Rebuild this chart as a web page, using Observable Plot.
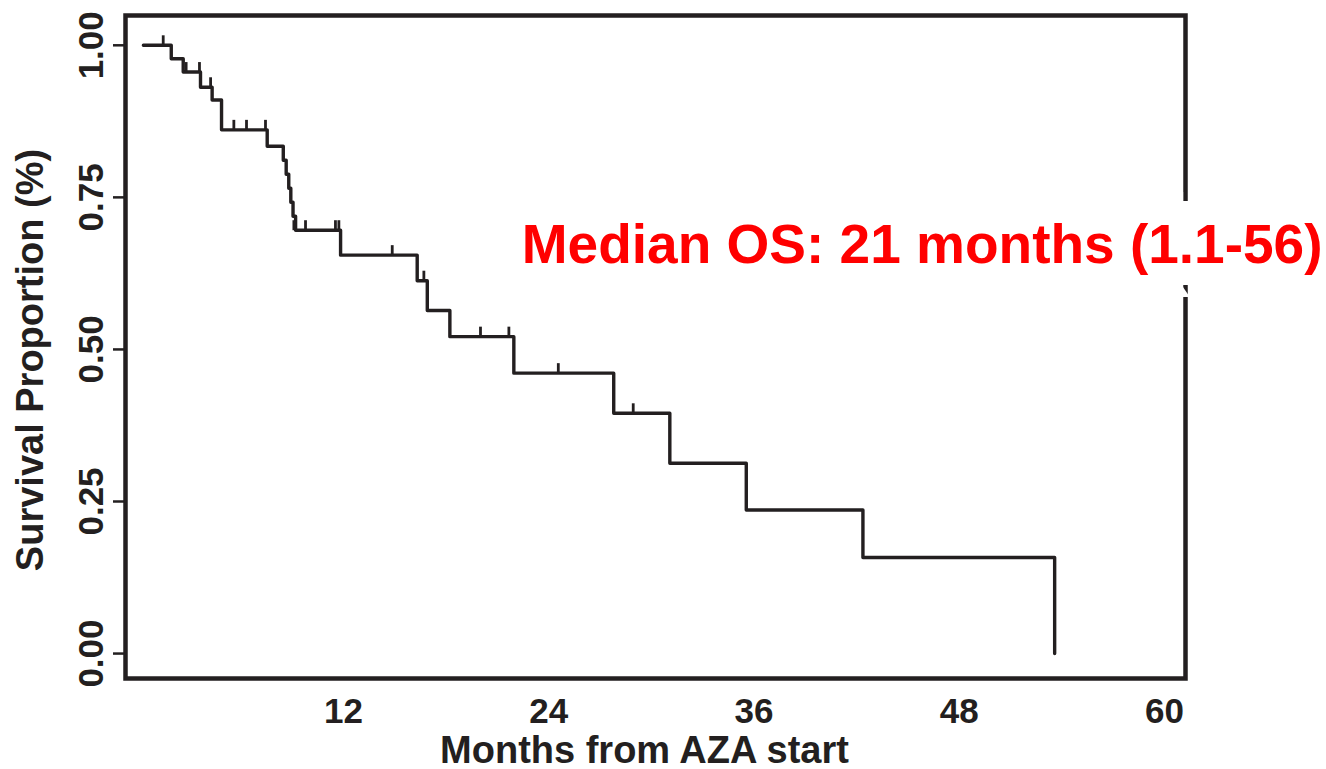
<!DOCTYPE html>
<html>
<head>
<meta charset="utf-8">
<script src="https://cdn.jsdelivr.net/npm/d3@7"></script>
<script src="https://cdn.jsdelivr.net/npm/@observablehq/plot@0.6"></script>
<style>
  html, body { margin: 0; padding: 0; background: #fff; }
</style>
</head>
<body>
<div id="chart"></div>
<script>
// Kaplan–Meier overall survival: month of each step and the survival level reached there
const eventMonths = [0.3, 1.93, 2.63, 3.64, 4.32, 4.87, 7.54, 8.48, 8.65, 8.8, 8.92, 9.05, 9.2,
                     11.83, 16.31, 16.9, 18.22, 21.96, 27.8, 31.08, 35.55, 42.37, 53.58];
const survival    = [1.0, 0.978, 0.956, 0.931, 0.91, 0.861, 0.834, 0.811, 0.788, 0.765, 0.742, 0.719, 0.696,
                     0.655, 0.613, 0.564, 0.521, 0.461, 0.395, 0.313, 0.236, 0.158, 0.0];

// Censored observations (tick marks on the curve)
const censorMonths   = [1.46, 2.8, 3.58, 4.23, 5.59, 6.33, 7.44, 9.1, 9.78, 11.53, 11.73,
                        14.85, 16.7, 20.01, 21.67, 24.56, 28.94];
const censorSurvival = [1.0, 0.956, 0.956, 0.931, 0.861, 0.861, 0.861, 0.696, 0.696, 0.696, 0.696,
                        0.655, 0.613, 0.521, 0.521, 0.461, 0.395];

const xTicks = [12, 24, 36, 48, 60];
const yTicks = [0, 0.25, 0.5, 0.75, 1];
const xLabel = "Months from AZA start";
const yLabel = "Survival Proportion (%)";
const annotation = "Median OS: 21 months (1.1-56)";

const curve = eventMonths.map((t, i) => ({t, s: survival[i]}));
const censored = censorMonths.map((t, i) => ({t, s: censorSurvival[i]}));

// short upward stroke used as the censor marker
const censorTick = {draw(ctx) { ctx.moveTo(0, 0); ctx.lineTo(0, -10); }};

const ink = "#231f20";
const font = "'Liberation Sans', Arial, Helvetica, sans-serif";

const chart = Plot.plot({
  width: 1326,
  height: 769,
  marginLeft: 125,
  marginRight: 141,
  marginTop: 15,
  marginBottom: 91,
  style: {fontFamily: font, fontWeight: "bold", color: ink, background: "#fff", overflow: "visible"},
  x: {domain: [-0.745, 61.23]},
  y: {domain: [-0.041, 1.049]},
  marks: [
    Plot.axisX(xTicks, {tickSize: 0, tickPadding: 20, fontSize: 35, label: null}),
    Plot.axisY(yTicks, {
      tickSize: 12, tickPadding: 11, tickFormat: ".2f", tickRotate: -90, fontSize: 35,
      strokeWidth: 2.5, label: null
    }),
    // axis titles
    Plot.text([xLabel], {
      text: d => d, frameAnchor: "bottom", textAnchor: "middle", lineAnchor: "middle", dx: -11, dy: 72,
      fontSize: 38, fontWeight: "bold", fill: ink
    }),
    Plot.text([yLabel], {
      text: d => d, frameAnchor: "left", textAnchor: "middle", lineAnchor: "middle", rotate: -90,
      dx: -95, dy: 13, fontSize: 38, fontWeight: "bold", fill: ink
    }),
    Plot.line(curve, {x: "t", y: "s", curve: "step-after", stroke: ink, strokeWidth: 3.4}),
    Plot.dot(censored, {x: "t", y: "s", symbol: censorTick, stroke: ink, strokeWidth: 2.8, fill: "none"}),
    Plot.frame({stroke: ink, strokeWidth: 4.5}),
    Plot.text([annotation], {
      text: d => d, frameAnchor: "top-right", textAnchor: "end", lineAnchor: "middle",
      dx: 137, dy: 230, fill: "#ff0000", fontSize: 55, fontWeight: "bold",
      stroke: "white", strokeWidth: 44, strokeLinejoin: "miter", paintOrder: "stroke"
    })
  ]
});

document.getElementById("chart").appendChild(chart);
</script>
</body>
</html>
